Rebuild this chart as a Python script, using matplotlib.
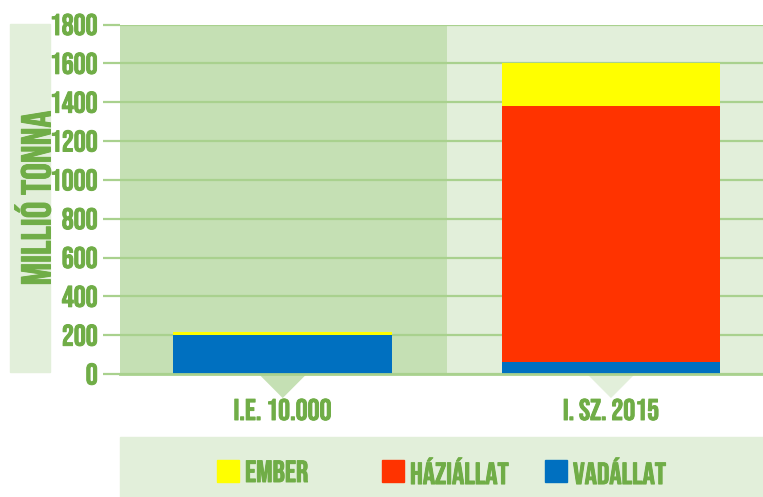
import matplotlib.pyplot as plt
import matplotlib.patheffects as pe
from matplotlib.patches import Rectangle, Polygon

# data
korok = ['I.E. 10.000', 'I. SZ. 2015']
ember = [18, 220]
haziallat = [0, 1320]
vadallat = [200, 60]
csoportok = ['EMBER', 'HÁZIÁLLAT', 'VADÁLLAT']
szinek = ['#ffff00', '#ff3300', '#0070c0']
yticks = [0, 200, 400, 600, 800, 1000, 1200, 1400, 1600, 1800]

zold = '#70ad47'
sotet = '#c5e0b4'
vilagos = '#e2efda'
racs = '#a9d18e'
plt.rcParams['font.family'] = ['Bebas Neue', 'Oswald', 'DejaVu Sans']
vastag = [pe.withStroke(linewidth=0.7, foreground=zold)]

W, H = 763, 497
fig = plt.figure(figsize=(W / 100, H / 100), dpi=100)
ax = fig.add_axes([120 / W, 1 - 374 / H, 643 / W, 349.5 / H])

x = [0, 1]
xlim = (-0.4956, 1.463)
ax.set_xlim(xlim)
ax.set_ylim(0, 1800)
ax.axvspan(xlim[0], 0.5, color=sotet, zorder=0, lw=0)
ax.axvspan(0.5, xlim[1], color=vilagos, zorder=0, lw=0)

ax.set_yticks(yticks)
ax.yaxis.grid(True, color=racs, lw=1.6, zorder=1)
ax.set_axisbelow(True)
for s in ax.spines.values():
    s.set_visible(False)

w = 0.667
ax.bar(x, vadallat, w, color=szinek[2], zorder=3)
ax.bar(x, haziallat, w, bottom=vadallat, color=szinek[1], zorder=3)
alap = [v + h for v, h in zip(vadallat, haziallat)]
ax.bar(x, ember, w, bottom=alap, color=szinek[0], zorder=3)
ax.axhline(0, color=racs, lw=2, zorder=4, clip_on=False)

# kis haromszogek a kategoriak alatt
for xi, c in zip(x, [sotet, vilagos]):
    tri = Polygon([[xi - 0.073, 0], [xi + 0.073, 0], [xi, -124]], closed=True,
                  color=c, clip_on=False, zorder=2, lw=0)
    ax.add_patch(tri)

ax.tick_params(axis='y', length=12, width=1.6, color=racs, pad=4,
               labelsize=21.5, labelcolor=zold)
ax.set_xticks(x, korok)
ax.tick_params(axis='x', length=0, pad=18, labelsize=21.5, labelcolor=zold)
for t in ax.get_yticklabels() + ax.get_xticklabels():
    t.set_path_effects(vastag)

# tengelyfelirat sav
fig.patches.append(Rectangle((10 / W, 1 - 372 / H), 40 / W, 348 / H,
                             transform=fig.transFigure, color=vilagos, zorder=0))
fig.text(32 / W, 1 - 198 / H, 'MILLIÓ TONNA', rotation=90, ha='center', va='center',
         color=zold, fontsize=30, path_effects=vastag)

# jelmagyarazat
fig.patches.append(Rectangle((120 / W, 0), 643 / W, 60 / H,
                             transform=fig.transFigure, color=vilagos, zorder=0))
legx = [217, 382, 545]
for lx, nev, c in zip(legx, csoportok, szinek):
    fig.patches.append(Rectangle((lx / W, 1 - 482 / H), 22 / W, 22 / H,
                                 transform=fig.transFigure, color=c, zorder=1))
    fig.text((lx + 28) / W, 1 - 471 / H, nev, ha='left', va='center',
             color=zold, fontsize=22, path_effects=vastag)

fig.savefig('out.png', dpi=100)
